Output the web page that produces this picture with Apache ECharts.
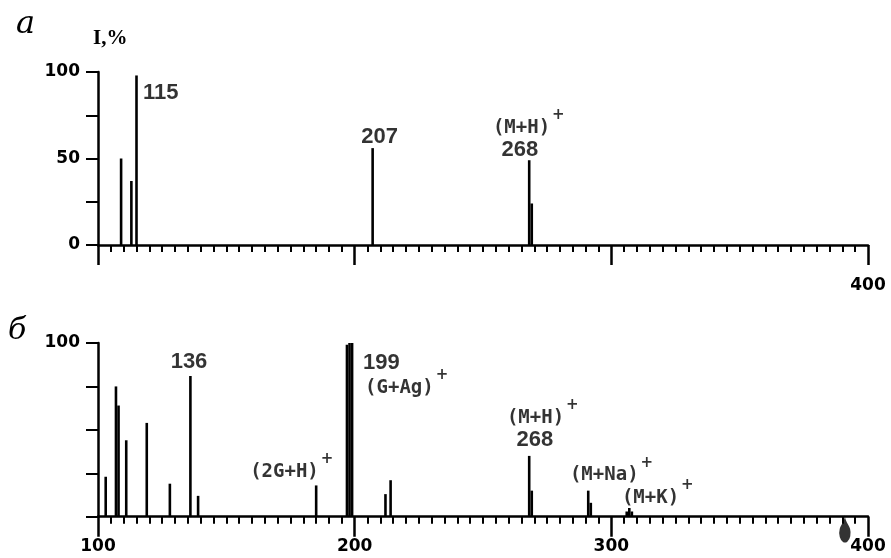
<!DOCTYPE html>
<html><head><meta charset="utf-8">
<script src="https://cdn.jsdelivr.net/npm/echarts@6/dist/echarts.min.js"></script>
<style>html,body{margin:0;padding:0;background:#fff}#c{width:891px;height:558px}</style>
</head><body><div id="c"></div>
<script>
// ---- data: panel а ----
const mzA  = [109, 113, 115, 207, 268, 269];
const intA = [50, 37, 98, 56, 49, 24];
// ---- data: panel б ----
const mzB  = [103, 107, 108, 111, 119, 128, 136, 139, 185, 197, 198, 199, 212, 214, 268, 269, 291, 292, 306, 307, 308];
const intB = [23, 75, 64, 44, 54, 19, 81, 12, 18, 99, 100, 100, 13, 21, 35, 15, 15, 8, 3, 5, 3];
const markerB = [391];               // dark blob drawn on the baseline
// ---- tick labels ----
const xLabelsA = [400];
const xLabelsB = [100, 200, 300, 400];
const yLabelsA = [0, 50, 100];
const yLabelsB = [100];
// ---- annotations: [m/z of peak, text] ----
const notesA = [[115, '115'], [207, '207'], [268, '268'], [268, '(M+H)+']];
const notesB = [[136, '136'], [199, '199'], [199, '(G+Ag)+'], [185, '(2G+H)+'],
                [268, '(M+H)+'], [268, '268'], [291, '(M+Na)+'], [307, '(M+K)+']];
const panelNames = ['а', 'б'];
const yName = 'I,%';

// ---- styles (offsets in px from the peak top; dy = text centre) ----
const noteStyleA = [
  {dx: 6.5, dy: 17.5, align: 'left'},
  {dx: 7, dy: -11.6, align: 'center'},
  {dx: -9.3, dy: -10.7, align: 'center'},
  {dx: -36.3, dy: -32.2, align: 'left'}
];
const noteStyleB = [
  {dx: -1.4, dy: -14, align: 'center'},
  {dx: 11, dy: 20, align: 'left'},
  {dx: 13, dy: 45, align: 'left'},
  {dx: -66, dy: -13.4, align: 'left'},
  {dx: -22.3, dy: -38, align: 'left'},
  {dx: 5.7, dy: -16, align: 'center'},
  {dx: -18.3, dy: -15.1, align: 'left'},
  {dx: -7.4, dy: -10, align: 'left'}
];

const numFont = {fontFamily: 'Liberation Sans', fontWeight: 'bold', fontSize: 22, color: '#000'};
const ionFont = {fontFamily: 'DejaVu Sans Mono', fontWeight: 'bold', fontSize: 19, color: '#000'};
const supFont = {fontFamily: 'DejaVu Sans', fontWeight: 'bold', fontSize: 15, color: '#000'};

const ctx = document.createElement('canvas').getContext('2d');
function textWidth(t, f) {
  ctx.font = f.fontWeight + ' ' + f.fontSize + 'px "' + f.fontFamily + '"';
  return ctx.measureText(t).width;
}

function noteData(notes, styles, mz, inten) {
  const out = [];
  notes.forEach((n, i) => {
    const st = styles[i];
    const y = inten[mz.indexOf(n[0])];
    const isIon = /^\(/.test(n[1]);
    const main = isIon ? n[1].replace(/\+$/, '') : n[1];
    const f = isIon ? ionFont : numFont;
    out.push({
      value: [n[0], y],
      label: Object.assign({show: true, position: [st.dx + 0.5, st.dy + 0.5], align: st.align,
        verticalAlign: 'middle', formatter: main}, f)
    });
    if (isIon) {
      const w = textWidth(main, ionFont);
      out.push({
        value: [n[0], y],
        label: Object.assign({show: true, position: [st.dx + w + 2.5, st.dy - 12], align: 'left',
          verticalAlign: 'middle', formatter: '+'}, supFont)
      });
    }
  });
  return out;
}

const axisLabelFont = {fontFamily: 'DejaVu Sans', fontWeight: 'bold', fontSize: 17, color: '#000'};
function xAxis(idx, labels, margin) {
  return {
    type: 'value', gridIndex: idx, min: 100, max: 400, interval: 100,
    axisLine: {show: true, onZero: false, lineStyle: {color: '#000', width: 2.5}},
    axisTick: {show: true, length: 20, lineStyle: {color: '#000', width: 2.5}},
    minorTick: {show: true, splitNumber: 20, length: 7, lineStyle: {color: '#000', width: 2}},
    splitLine: {show: false}, minorSplitLine: {show: false},
    axisLabel: Object.assign({margin: margin, showMinLabel: true, showMaxLabel: true,
      formatter: v => labels.includes(v) ? String(v) : ''}, axisLabelFont)
  };
}
function yAxis(idx, labels) {
  return {
    type: 'value', gridIndex: idx, min: 0, max: 100, interval: 25,
    axisLine: {show: true, lineStyle: {color: '#000', width: 2.5}},
    axisTick: {show: true, length: 12, lineStyle: {color: '#000', width: 2}},
    splitLine: {show: false},
    axisLabel: Object.assign({margin: 18, formatter: v => labels.includes(v) ? String(v) : ''}, axisLabelFont)
  };
}
function bars(idx, mz, inten) {
  return {
    type: 'bar', xAxisIndex: idx, yAxisIndex: idx, barWidth: 2.6,
    data: mz.map((m, i) => [m, inten[i]]),
    itemStyle: {color: '#000'}, silent: true
  };
}
function notes(idx, data) {
  return {
    type: 'scatter', xAxisIndex: idx, yAxisIndex: idx, symbolSize: 1,
    itemStyle: {color: 'rgba(0,0,0,0)'}, data: data, silent: true, z: 5
  };
}

const chart = echarts.init(document.getElementById('c'), null, {renderer: 'canvas'});
chart.setOption({
  animation: false,
  backgroundColor: '#fff',
  grid: [
    {left: 98, right: 23, top: 72, height: 173},
    {left: 98, right: 23, top: 343, height: 173.7}
  ],
  xAxis: [xAxis(0, xLabelsA, 32), xAxis(1, xLabelsB, 21)],
  yAxis: [yAxis(0, yLabelsA), yAxis(1, yLabelsB)],
  series: [
    bars(0, mzA, intA),
    bars(1, mzB, intB),
    notes(0, noteData(notesA, noteStyleA, mzA, intA)),
    notes(1, noteData(notesB, noteStyleB, mzB, intB)),
    {
      type: 'scatter', xAxisIndex: 1, yAxisIndex: 1, symbol: 'pin', symbolRotate: 180,
      symbolSize: [19, 32], symbolOffset: [0, -2], itemStyle: {color: '#000'},
      data: markerB.map(m => [m, 0]), silent: true, z: 4
    }
  ],
  graphic: [
    {type: 'text', left: 16, top: 9, style: {text: panelNames[0], font: 'italic 32px "DejaVu Serif"', fill: '#000'}},
    {type: 'text', left: 8, top: 316, style: {text: panelNames[1], font: 'italic 30px "DejaVu Serif"', fill: '#000'}},
    {type: 'text', left: 93, top: 28, style: {text: yName, font: 'bold 21px "Liberation Serif"', fill: '#000'}}
  ]
});
</script>
</body></html>
